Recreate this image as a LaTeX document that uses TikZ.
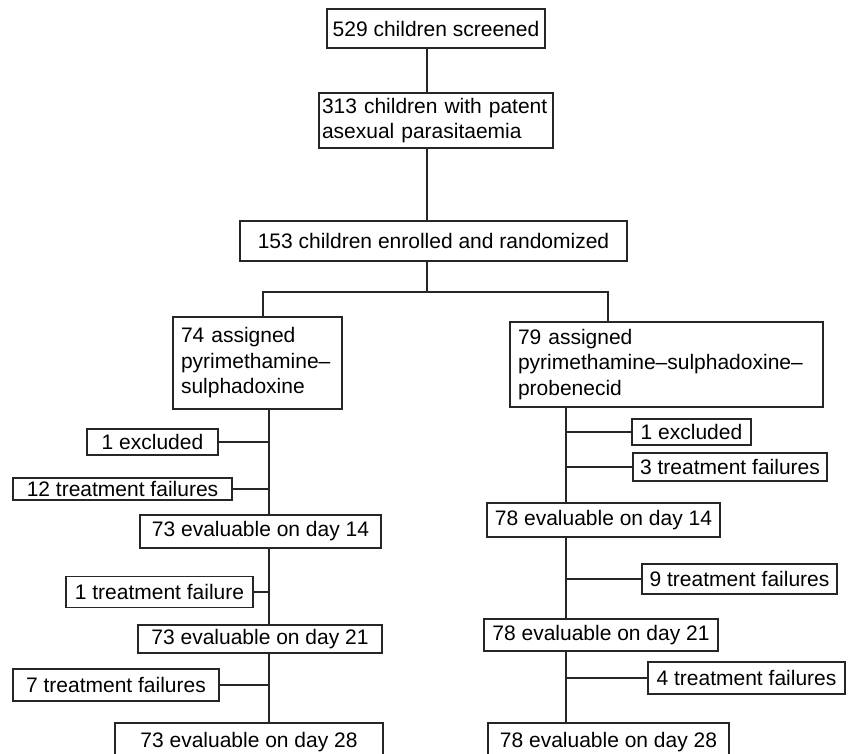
\documentclass[tikz,border=0pt]{standalone}
\usepackage{fontspec}
\setmainfont{Liberation Sans}
\usepackage{tikz}
\usetikzlibrary{calc}

\begin{document}
\begin{tikzpicture}[x=1pt, y=-1pt]
    % --- GLOBAL DEFINITIONS ---
    \tikzset{
        box/.style={draw=black!85, line width=1.1pt, inner sep=0pt, align=center,
            font=\fontsize{21}{25.5}\selectfont},
        textbox/.style={box, align=left, inner xsep=#1},
        link/.style={draw=black!85, line width=1.1pt},
    }
    \useasboundingbox (0,0) rectangle (849,754);

    % Vertical guides
    \coordinate (spine) at (427,0);
    \coordinate (trunkL) at (269,0);
    \coordinate (trunkR) at (566,0);
    \coordinate (dropL) at (263,292);
    \coordinate (dropR) at (608,292);

    % TOP
    \node[box, minimum width=218pt, minimum height=39pt] (screened) at (436,28.5) {529 children screened};
    \node[textbox=3pt, text width=228pt, minimum height=55pt] (patent) at (436,120.5) {313 children with patent\\asexual parasitaemia};
    \node[box, minimum width=387pt, minimum height=40pt] (random) at (433.5,241) {153 children enrolled and randomized};

    % ARMS
    \node[textbox=8pt, text width=153pt, minimum height=92pt] (armL) at (257.5,363) {74 assigned\\pyrimethamine--\\sulphadoxine};
    \node[textbox=8pt, text width=297pt, minimum height=85pt] (armR) at (666.5,364.5) {79 assigned\\pyrimethamine--sulphadoxine--\\probenecid};

    % LEFT ARM
    \node[box, minimum width=131pt, minimum height=26pt] (exclL) at (152.5,442) {1 excluded};
    \node[box, minimum width=219pt, minimum height=22pt] (failL1) at (122.5,489) {12 treatment failures};
    \node[box, minimum width=241pt, minimum height=33pt] (day14L) at (260.5,531.5) {73 evaluable on day 14};
    \node[box, minimum width=187pt, minimum height=31pt] (failL2) at (159.5,592) {1 treatment failure};
    \node[box, minimum width=244pt, minimum height=28pt] (day21L) at (260,639) {73 evaluable on day 21};
    \node[box, minimum width=206pt, minimum height=32pt] (failL3) at (116,685) {7 treatment failures};
    \node[box, minimum width=268pt, minimum height=38pt] (day28L) at (249,742) {73 evaluable on day 28};

    % RIGHT ARM
    \node[box, minimum width=119pt, minimum height=26pt] (exclR) at (691.5,432) {1 excluded};
    \node[box, minimum width=194pt, minimum height=28pt] (failR1) at (730,467) {3 treatment failures};
    \node[box, minimum width=233pt, minimum height=34pt] (day14R) at (603.5,520) {78 evaluable on day 14};
    \node[box, minimum width=195pt, minimum height=30pt] (failR2) at (739.5,579) {9 treatment failures};
    \node[box, minimum width=234pt, minimum height=32pt] (day21R) at (601,635) {78 evaluable on day 21};
    \node[box, minimum width=197pt, minimum height=32pt] (failR3) at (746.5,678) {4 treatment failures};
    \node[box, minimum width=241pt, minimum height=38pt] (day28R) at (608.5,742) {78 evaluable on day 28};

    % CONNECTORS
    \draw[link] (screened.south -| spine) -- (patent.north -| spine);
    \draw[link] (patent.south -| spine) -- (random.north -| spine);
    \draw[link] (random.south -| spine) -- (spine |- dropL);
    \draw[link] (armL.north -| dropL) -- (dropL) -- (dropR) -- (armR.north -| dropR);

    \draw[link] (armL.south -| trunkL) -- (day14L.north -| trunkL);
    \draw[link] (day14L.south -| trunkL) -- (day21L.north -| trunkL);
    \draw[link] (day21L.south -| trunkL) -- (day28L.north -| trunkL);
    \foreach \n in {exclL, failL1, failL2, failL3}
        \draw[link] (\n.east) -- (\n.east -| trunkL);

    \draw[link] (armR.south -| trunkR) -- (day14R.north -| trunkR);
    \draw[link] (day14R.south -| trunkR) -- (day21R.north -| trunkR);
    \draw[link] (day21R.south -| trunkR) -- (day28R.north -| trunkR);
    \foreach \n in {exclR, failR1, failR2, failR3}
        \draw[link] (\n.west) -- (\n.west -| trunkR);
\end{tikzpicture}
\end{document}
